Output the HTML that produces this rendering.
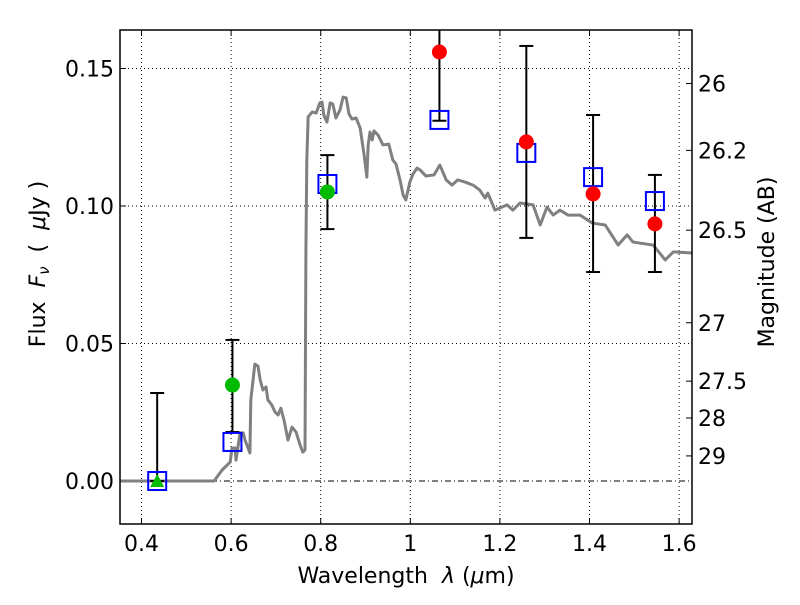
<!DOCTYPE html>
<html><head><meta charset="utf-8"><style>
body{margin:0;background:#fff}
svg{font-family:"DejaVu Sans","Liberation Sans",sans-serif}
text{white-space:pre}
</style></head><body>
<svg id="c" width="800" height="600" xmlns="http://www.w3.org/2000/svg"></svg>
<script>
const xTicks=[0.4,0.6,0.8,1.0,1.2,1.4,1.6];
const xTickLabels=["0.4","0.6","0.8","1","1.2","1.4","1.6"];
const yTicks=[0,0.05,0.10,0.15];
const yTickLabels=["0.00","0.05","0.10","0.15"];
const magTicks=[26,26.2,26.5,27,27.5,28,29];
const magLabels=["26","26.2","26.5","27","27.5","28","29"];
const modelWl=[0.352,0.562,0.580,0.598,0.602,0.609,0.611,0.620,0.627,0.631,0.642,0.644,0.653,0.660,0.665,0.671,0.678,0.682,0.691,0.698,0.705,0.711,0.718,0.727,0.736,0.745,0.754,0.760,0.765,0.767,0.769,0.772,0.781,0.790,0.798,0.803,0.807,0.814,0.821,0.827,0.834,0.843,0.850,0.857,0.863,0.870,0.879,0.888,0.897,0.903,0.906,0.910,0.915,0.919,0.928,0.939,0.952,0.961,0.968,0.977,0.984,0.990,0.999,1.006,1.015,1.022,1.035,1.053,1.066,1.080,1.093,1.106,1.122,1.140,1.155,1.167,1.173,1.189,1.216,1.229,1.245,1.274,1.290,1.305,1.319,1.334,1.352,1.379,1.406,1.435,1.464,1.484,1.497,1.542,1.569,1.587,1.629];
const modelFlux=[0,0,0.0040,0.0069,0.0120,0.0120,0.0076,0.0175,0.0175,0.0149,0.0102,0.0295,0.0425,0.0418,0.0367,0.0331,0.0342,0.0295,0.0276,0.0251,0.0240,0.0265,0.0222,0.0149,0.0196,0.0178,0.0131,0.0105,0.0113,0.084,0.1167,0.1324,0.1342,0.1338,0.1375,0.1378,0.1331,0.1305,0.1375,0.1371,0.1320,0.1349,0.1396,0.1393,0.1335,0.1316,0.1320,0.1284,0.1185,0.1105,0.1222,0.1269,0.1240,0.1273,0.1258,0.1222,0.1225,0.1167,0.1153,0.1095,0.1040,0.1022,0.1087,0.1116,0.1138,0.1131,0.1109,0.1113,0.1149,0.1095,0.1076,0.1095,0.1087,0.1076,0.1058,0.1029,0.1047,0.0985,0.1004,0.0985,0.1011,0.1004,0.0931,0.0996,0.0967,0.0985,0.0967,0.0967,0.0938,0.0931,0.0858,0.0895,0.0869,0.0858,0.0804,0.0833,0.0829];
const obsWl=[0.435,0.603,0.815,1.065,1.259,1.408,1.546];
const obsFlux=[0,0.0349,0.1051,0.156,0.1233,0.1044,0.0935];
const errLo=[0,0.0178,0.0916,0.131,0.0884,0.076,0.076];
const errHi=[0.032,0.0513,0.1185,0.17,0.1582,0.1331,0.1113];
const obsColor=["#00bb00","#00bb00","#00bb00","red","red","red","red"];
const obsShape=["triangle","circle","circle","circle","circle","circle","circle"];
const modelBand=[0,0.0142,0.108,0.1313,0.1193,0.1105,0.1018];

const L=120,R=692,T=30,B=524;
const X=v=>141.5+(v-0.4)*448;
const Y=v=>481-v*2750;
const NS="http://www.w3.org/2000/svg";
const svg=document.getElementById('c');
function mk(t,a,p){const e=document.createElementNS(NS,t);for(const k in a)e.setAttribute(k,a[k]);(p||svg).appendChild(e);return e;}
const clip=mk('clipPath',{id:'cp'});mk('rect',{x:L,y:T,width:R-L,height:B-T},clip);
xTicks.forEach((v,i)=>{
  const g=mk('line',{x1:X(v),x2:X(v),y1:T,y2:B,stroke:'#000','stroke-width':1,'stroke-dasharray':'1,3'});
  
  mk('line',{x1:X(v),x2:X(v),y1:B,y2:B-6,stroke:'#000'});mk('line',{x1:X(v),x2:X(v),y1:T,y2:T+6,stroke:'#000'});
  const t=mk('text',{x:X(v),y:B+27,'text-anchor':'middle','font-size':22});t.textContent=xTickLabels[i];
  
});
yTicks.forEach((v,i)=>{
  const g=mk('line',{x1:L,x2:R,y1:Y(v),y2:Y(v),stroke:'#000','stroke-width':1,'stroke-dasharray':v===0?'6,3,1,3':'1,3'});
  
  mk('line',{x1:L,x2:L+6,y1:Y(v),y2:Y(v),stroke:'#000'});
  const t=mk('text',{x:L-6,y:Y(v)+8,'text-anchor':'end','font-size':22});t.textContent=yTickLabels[i];
  
});
magTicks.forEach((m,i)=>{
  const f=Math.pow(10,(23.9-m)/2.5);
  mk('line',{x1:R,x2:R-6,y1:Y(f),y2:Y(f),stroke:'#000'});
  const t=mk('text',{x:R+6,y:Y(f)+8,'font-size':22});t.textContent=magLabels[i];
  
});
const g=mk('g',{'clip-path':'url(#cp)'});
const pl=mk('polyline',{points:modelWl.map((w,i)=>X(w)+','+Y(modelFlux[i])).join(' '),fill:'none',stroke:'#808080','stroke-width':3,'stroke-linejoin':'round'},g);

obsWl.forEach((w,i)=>{
  const x=X(w);
  const e=mk('line',{x1:x,x2:x,y1:Y(errLo[i]),y2:Y(errHi[i]),stroke:'#000','stroke-width':2},g);
  
  [errLo[i],errHi[i]].forEach(v=>mk('line',{x1:x-7,x2:x+7,y1:Y(v),y2:Y(v),stroke:'#000','stroke-width':2},g));
  const s=mk('rect',{x:x-9,y:Y(modelBand[i])-9,width:18,height:18,fill:'none',stroke:'#0000ff','stroke-width':2},g);
  
  let m;
  if(obsShape[i]==='triangle'){const y=Y(obsFlux[i]);m=mk('polygon',{points:`${x-7},${y+6} ${x+7},${y+6} ${x},${y-7}`,fill:obsColor[i]},g);}
  else m=mk('circle',{cx:x,cy:Y(obsFlux[i]),r:7.5,fill:obsColor[i]},g);
  
});
const fr=mk('rect',{x:L,y:T,width:R-L,height:B-T,fill:'none',stroke:'#000','stroke-width':1.5});

let t=mk('text',{x:406,y:583,'text-anchor':'middle','font-size':22});t.innerHTML='Wavelength  <tspan font-style="italic">λ</tspan> (<tspan font-style="italic">μ</tspan>m)';

t=mk('text',{x:0,y:0,'text-anchor':'middle','font-size':22,transform:'translate(45,264) rotate(-90)'});t.innerHTML='Flux  <tspan font-style="italic">F</tspan><tspan font-style="italic" font-size="15" dy="4">ν</tspan><tspan dy="-4">  (  </tspan><tspan font-style="italic">μ</tspan>Jy )';

t=mk('text',{x:0,y:0,'text-anchor':'middle','font-size':22,transform:'translate(774,262) rotate(-90)'});t.textContent='Magnitude (AB)';

</script>
</body></html>
